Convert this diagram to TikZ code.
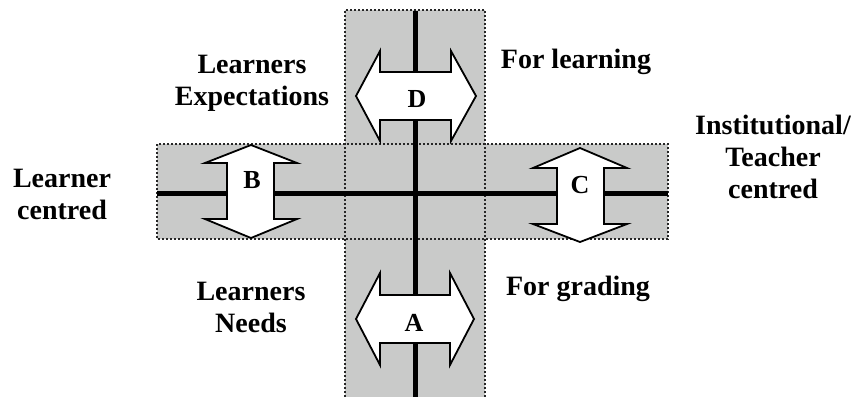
\documentclass[tikz,border=0pt]{standalone}
\usepackage{fontspec}
\setmainfont{Liberation Serif}
\definecolor{bandgray}{RGB}{201,202,201}
\tikzset{
  band/.style={fill=bandgray},
  bandedge/.style={densely dotted, line width=1pt, black!85},
  axis/.style={line width=2.5pt},
  twoway/.style={draw=black, line width=0.9pt, fill=white, line join=miter},
  label/.style={font=\fontsize{14}{16}\selectfont\bfseries, align=center},
  letter/.style={font=\fontsize{13}{15}\selectfont\bfseries}
}
\begin{document}
\begin{tikzpicture}[x=0.5pt,y=-0.5pt]
\useasboundingbox (0,0) rectangle (859,397);

% shaded bands
\fill[band] (345,10) rectangle (485,397);
\fill[band] (157,144) rectangle (668,239);
\draw[bandedge] (345,397) -- (345,10) -- (485,10) -- (485,397);
\draw[bandedge] (157,144) rectangle (668,239);

% axes
\draw[axis] (415,11) -- (415,397);
\draw[axis] (157,193) -- (668,193);

% two-way arrows
\draw[twoway] (356,96) -- (380,51) -- (380,72) -- (451,72) -- (451,51) -- (476,96)
  -- (451,141) -- (451,120) -- (380,120) -- (380,141) -- cycle;
\draw[twoway] (356,319) -- (380,273) -- (380,295) -- (450,295) -- (450,273) -- (474,319)
  -- (450,365) -- (450,343) -- (380,343) -- (380,365) -- cycle;
\draw[twoway] (251,145) -- (297,163) -- (274,163) -- (274,219) -- (297,219) -- (251,238)
  -- (205,219) -- (227,219) -- (227,163) -- (205,163) -- cycle;
\draw[twoway] (580,148) -- (627,168) -- (604,168) -- (604,224) -- (627,224) -- (580,242)
  -- (533,224) -- (557,224) -- (557,168) -- (533,168) -- cycle;

\node[letter] (labD) at (417,99) {D};
\node[letter] (labA) at (414,323) {A};
\node[letter] (labB) at (252,180) {B};
\node[letter] (labC) at (580,185) {C};

% quadrant labels
\node[label] (learnerexp) at (252,83) {Learners\\Expectations};
\node[label] (forlearning) at (576,62) {For learning};
\node[label] (institutional) at (773,157) {Institutional/\\Teacher\\centred};
\node[label] (learnercentred) at (62,194) {Learner\\centred};
\node[label] (learnerneeds) at (251,307) {Learners\\Needs};
\node[label] (forgrading) at (578,289) {For grading};
\end{tikzpicture}
\end{document}
